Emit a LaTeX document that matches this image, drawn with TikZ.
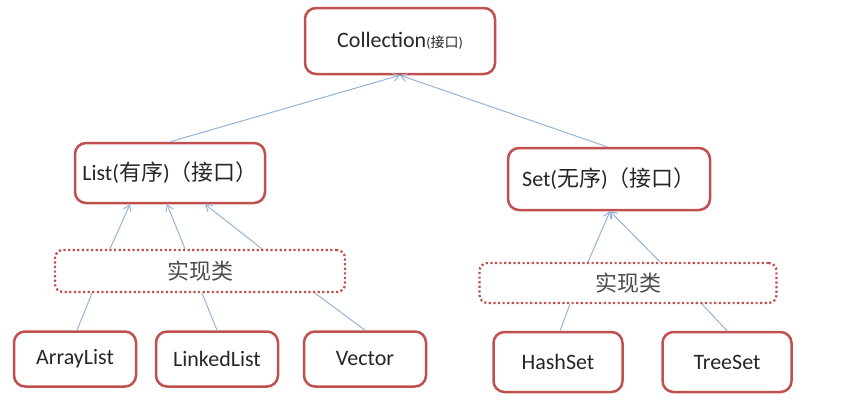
\documentclass[tikz,border=0pt]{standalone}
\usepackage{fontspec}
\usepackage{xcolor}
\usetikzlibrary{arrows.meta}
\setmainfont{Carlito}
\newfontfamily\cjk{Noto Sans CJK SC}
\newcommand{\zh}[1]{{\cjk #1}}
\definecolor{boxred}{HTML}{C0504D}
\definecolor{linkblue}{HTML}{95B3D7}
\tikzset{
  red box/.style={
    draw=boxred,
    line width=2.5pt,
    rounded corners=11pt,
    fill=white,
    text=black!85,
    font=\fontsize{22}{26}\selectfont,
    minimum width={#1pt},
  },
  impl box/.style={
    draw=boxred,
    line width=2.2pt,
    dash pattern=on 2.2pt off 2.4pt,
    rounded corners=8pt,
    text=black!70,
    font=\fontsize{22}{26}\selectfont,
    minimum width={#1pt},
  },
  link/.style={
    draw=linkblue,
    line width=1pt,
  },
  link arrow/.style={
    link,
    -{Straight Barb[length=6pt,width=8pt]},
  }
}

\begin{document}
\begin{tikzpicture}[x=1pt,y=-1pt]
        \useasboundingbox (0,0) rectangle (843,415);

        \node [red box=190, minimum height=66pt] (coll) at (400,41) {Collection{\fontsize{14}{16}\selectfont(\zh{接口})}};
        \node [red box=190, minimum height=60pt] (listI) at (170,173) {List(\zh{有序})\zh{（接口）}};
        \node [red box=202, minimum height=62pt] (setI) at (609,179) {Set(\zh{无序})\zh{（接口）}};

        \node [impl box=290, minimum height=42pt] (implL) at (200,271) {\zh{实现类}};
        \node [impl box=297, minimum height=40pt] (implS) at (628,283) {\zh{实现类}};

        \node [red box=122, minimum height=55pt] (arrayList) at (75,359) {ArrayList};
        \node [red box=122, minimum height=55pt] (linkedList) at (217,359) {LinkedList};
        \node [red box=122, minimum height=55pt] (vector) at (365,359) {Vector};
        \node [red box=129, minimum height=60pt] (hashSet) at (558,362) {HashSet};
        \node [red box=129, minimum height=60pt] (treeSet) at (727,362) {TreeSet};

        % interfaces
        \draw [link arrow] (listI.north) -- (coll.south);
        \draw [link arrow] ([xshift=-2pt]setI.north) -- (coll.south);

        % implementations -> List / Set
        \draw [link arrow] ([xshift=-90pt]implL.north) -- ([xshift=-40pt]listI.south);
        \draw [link arrow] ([xshift=-15pt]implL.north) -- ([xshift=-3pt]listI.south);
        \draw [link arrow] ([xshift=62pt]implL.north) -- ([xshift=35pt]listI.south);
        \draw [link arrow] ([xshift=-40pt]implS.north) -- ([xshift=1pt]setI.south);
        \draw [link arrow] ([xshift=32pt]implS.north) -- ([xshift=1pt]setI.south);

        % classes
        \draw [link] ([xshift=2pt]arrayList.north) -- ([xshift=-108pt]implL.south);
        \draw [link] (linkedList.north) -- ([xshift=2pt]implL.south);
        \draw [link] (vector.north) -- ([xshift=115pt]implL.south);
        \draw [link] ([xshift=2pt]hashSet.north) -- ([xshift=-58pt]implS.south);
        \draw [link] (treeSet.north) -- ([xshift=74pt]implS.south);
    \end{tikzpicture}
\end{document}
